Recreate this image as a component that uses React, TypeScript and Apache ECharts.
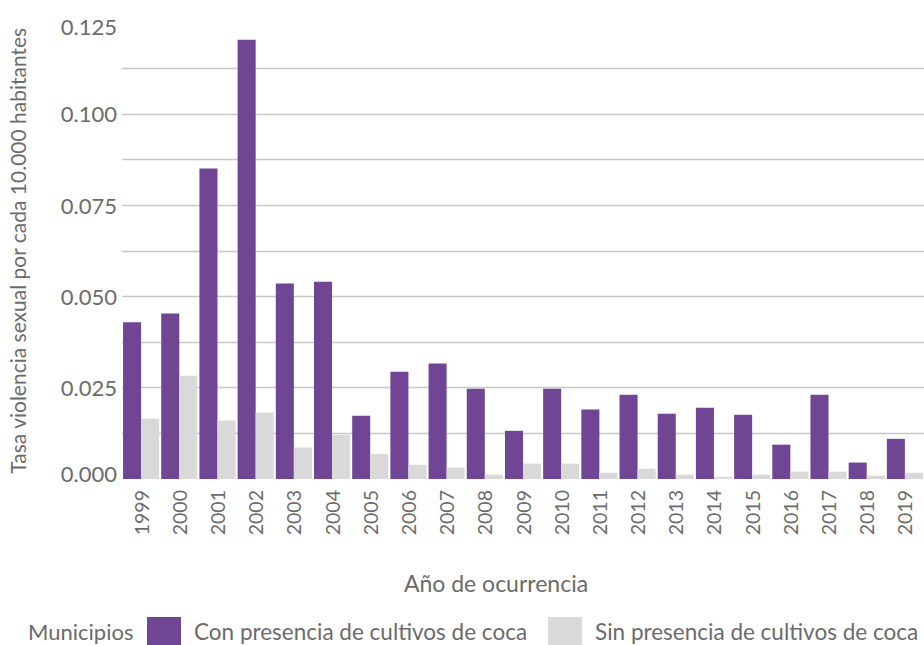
import React, { useEffect, useRef } from "react";
import * as echarts from "echarts";

const years = ["1999","2000","2001","2002","2003","2004","2005","2006","2007","2008","2009","2010","2011","2012","2013","2014","2015","2016","2017","2018","2019"];
const conCoca = [0.0429,0.0453,0.0850,0.1203,0.0535,0.0540,0.0173,0.0294,0.0316,0.0247,0.0132,0.0247,0.0190,0.0231,0.0179,0.0195,0.0176,0.0094,0.0231,0.0045,0.0110];
const sinCoca = [0.0165,0.0283,0.0160,0.0182,0.0086,0.0121,0.0069,0.0039,0.0031,0.0012,0.0042,0.0042,0.0017,0.0028,0.0012,0.0006,0.0012,0.0020,0.0020,0.0009,0.0017];
const seriesNames = ["Con presencia de cultivos de coca", "Sin presencia de cultivos de coca"];

const FONT = "Lato, 'Noto Sans', sans-serif";
const TXT = "#6b6b6b";
const PURPLE = "#704593";
const GRAY = "#d9d9d9";

export default function App() {
  const ref = useRef<HTMLDivElement>(null);
  useEffect(() => {
    if (!ref.current) return;
    const chart = echarts.init(ref.current, null, { renderer: "svg" });
    chart.setOption({
      animation: false,
      textStyle: { fontFamily: FONT },
      grid: { left: 122, right: 0, top: 22.5, bottom: 166, containLabel: false, outerBoundsMode: "none" },
      legend: {
        left: 147,
        top: 617,
        width: 900,
        padding: 0,
        itemWidth: 34,
        itemHeight: 28,
        itemGap: 21,
        icon: "rect",
        data: seriesNames,
        textStyle: { fontFamily: FONT, fontSize: 22.5, color: TXT, padding: [0, 0, 0, 8] },
      },
      graphic: [
        { type: "text", left: 28, top: 620, style: { text: "Municipios", fontFamily: FONT, fontSize: 22, fill: TXT } },
        { type: "text", x: 496, y: 583, style: { text: "Año de ocurrencia", fontFamily: FONT, fontSize: 23, fill: TXT, textAlign: "center", textVerticalAlign: "middle" } },
      ],
      xAxis: {
        type: "category",
        data: years,
        axisLine: { show: false },
        axisTick: { show: false },
        axisLabel: { rotate: 90, margin: 11, fontSize: 19.5, color: TXT, fontFamily: FONT, interval: 0 },
      },
      yAxis: {
        type: "value",
        min: 0,
        max: 0.125,
        interval: 0.0125,
        name: "Tasa violencia sexual por cada 10.000 habitantes",
        nameLocation: "middle",
        nameRotate: 90,
        nameGap: 94,
        nameTextStyle: { fontSize: 21, color: TXT, fontFamily: FONT },
        axisLine: { show: false },
        axisTick: { show: false },
        splitLine: { show: true, showMinLine: false, showMaxLine: false, lineStyle: { color: "#c8c8c8", width: 1.3 } },
        axisLabel: {
          margin: 5,
          fontSize: 22,
          color: TXT,
          fontFamily: FONT,
          formatter: (v: number, i: number) => {
            if (i % 2 !== 0) return "";
            const s = v.toFixed(3);
            if (i === 0) return "{lo|" + s + "}";
            if (i === 10) return "{hi|" + s + "}";
            return s;
          },
          rich: {
            lo: { padding: [0, 0, 12, 0], fontSize: 22, color: TXT, fontFamily: FONT },
            hi: { padding: [8, 0, 0, 0], fontSize: 22, color: TXT, fontFamily: FONT },
          },
        },
      },
      series: [
        { name: seriesNames[0], type: "bar", data: conCoca, itemStyle: { color: PURPLE }, barGap: "0%", barCategoryGap: "5.5%" },
        { name: seriesNames[1], type: "bar", data: sinCoca, itemStyle: { color: GRAY }, barGap: "0%", barCategoryGap: "5.5%" },
      ],
    });
    return () => chart.dispose();
  }, []);
  return <div ref={ref} style={{ position: "absolute", left: 0, top: 0, width: 924, height: 645 }} />;
}
